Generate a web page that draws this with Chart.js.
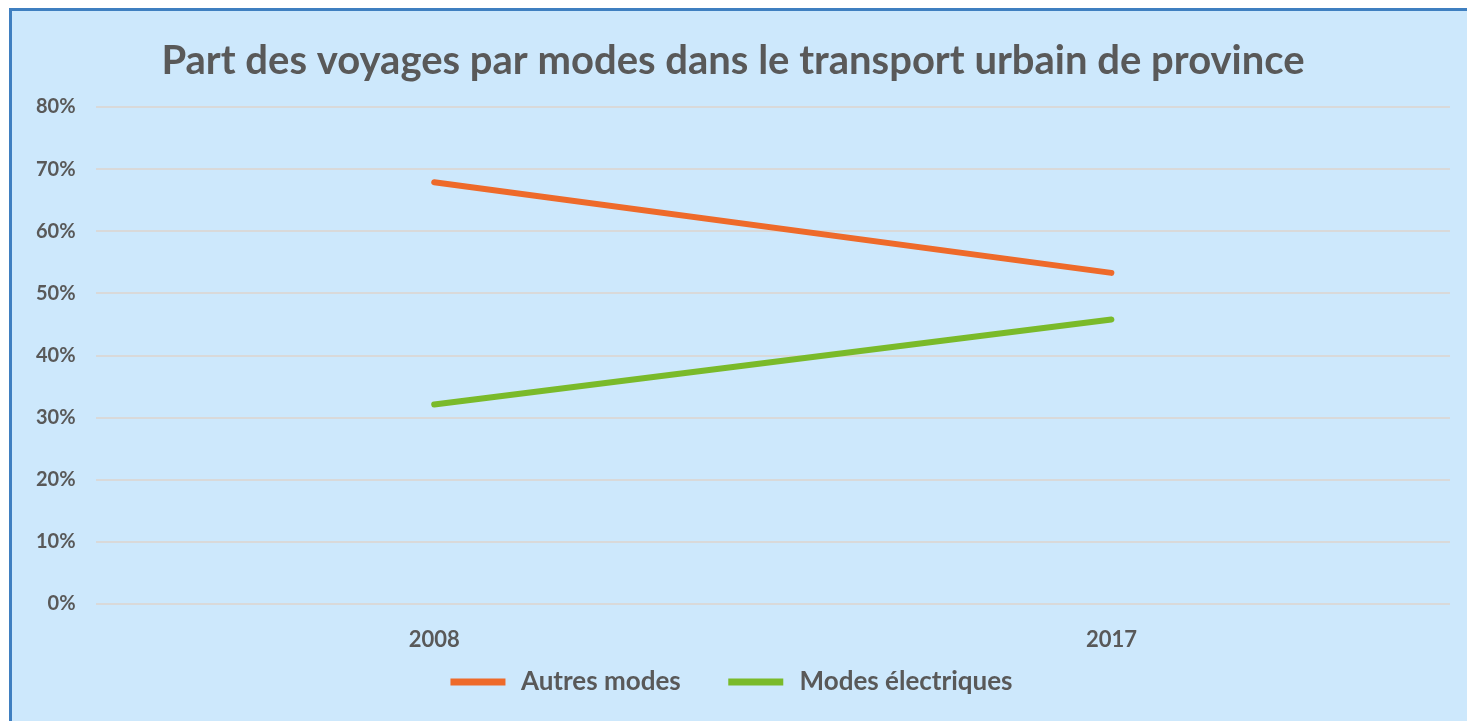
<!DOCTYPE html>
<html>
<head>
<meta charset="utf-8">
<script src="https://cdn.jsdelivr.net/npm/chart.js@4"></script>
<style>
  html, body { margin: 0; padding: 0; background: #fff; overflow: hidden; }
  #box {
    position: absolute; left: 9px; top: 8px; width: 1458px; height: 713px;
    background: #cde8fc; border-left: 3px solid #3f7fc0; border-top: 3px solid #3f7fc0;
    box-sizing: border-box;
  }
  #wrap { position: absolute; left: 0; top: 0; width: 1455px; height: 710px; }
</style>
</head>
<body>
<div id="box"><div id="wrap"><canvas id="chart"></canvas></div></div>
<script>
// Part des voyages par modes
const years = ["2008", "2017"];
const autresModes = [67.9, 53.3];
const modesElectriques = [32.1, 45.8];
const seriesNames = ["Autres modes", "Modes électriques"];

const grey = "#595959";
const font = "Lato, 'Open Sans', sans-serif";

// default legend items, a little more room around the text
const baseLabels = Chart.defaults.plugins.legend.labels.generateLabels;
const spacedLabels = (chart) => {
  const items = baseLabels(chart);
  items.forEach((it, i) => {
    it.text = "\u00a0" + it.text;
    if (i < items.length - 1) it.text = it.text + "\u00a0".repeat(8);
  });
  return items;
};

const ctx = document.getElementById("chart").getContext("2d");
new Chart(ctx, {
  type: "line",
  data: {
    labels: years,
    datasets: [
      {
        label: seriesNames[0],
        data: autresModes,
        borderColor: "#ee6a2a",
        backgroundColor: "#ee6a2a",
        borderWidth: 6,
        borderCapStyle: "round",
        pointRadius: 0,
        tension: 0,
      },
      {
        label: seriesNames[1],
        data: modesElectriques,
        borderColor: "#7aba2a",
        backgroundColor: "#7aba2a",
        borderWidth: 6,
        borderCapStyle: "round",
        pointRadius: 0,
        tension: 0,
      },
    ],
  },
  options: {
    responsive: true,
    maintainAspectRatio: false,
    animation: false,
    layout: { padding: { left: 4, right: 17, top: 26, bottom: 16 } },
    plugins: {
      title: {
        display: true,
        text: "Part des voyages par modes dans le transport urbain de province",
        color: grey,
        font: { family: font, size: 40, weight: "bold" },
        padding: { top: 0, bottom: 22 },
      },
      legend: {
        position: "bottom",
        labels: {
          color: grey,
          font: { family: font, size: 26, weight: "bold", lineHeight: 1 },
          boxWidth: 49,
          boxHeight: 1,
          padding: 0,
          generateLabels: spacedLabels,
        },
      },
      tooltip: { enabled: false },
    },
    scales: {
      x: {
        offset: true,
        grid: { display: false, drawTicks: false },
        border: { display: false },
        ticks: {
          color: grey,
          font: { family: font, size: 22, weight: "bold", lineHeight: 1 },
          padding: 25,
        },
        afterFit: (scale) => { scale.height = 65; },
      },
      y: {
        min: 0,
        max: 80,
        grid: { color: "#d9d9d9", lineWidth: 2, drawTicks: false },
        border: { display: false },
        ticks: {
          stepSize: 10,
          color: grey,
          font: { family: font, size: 20, weight: "bold" },
          padding: 20,
          callback: (v) => v + "%",
        },
      },
    },
  },
});
</script>
</body>
</html>
